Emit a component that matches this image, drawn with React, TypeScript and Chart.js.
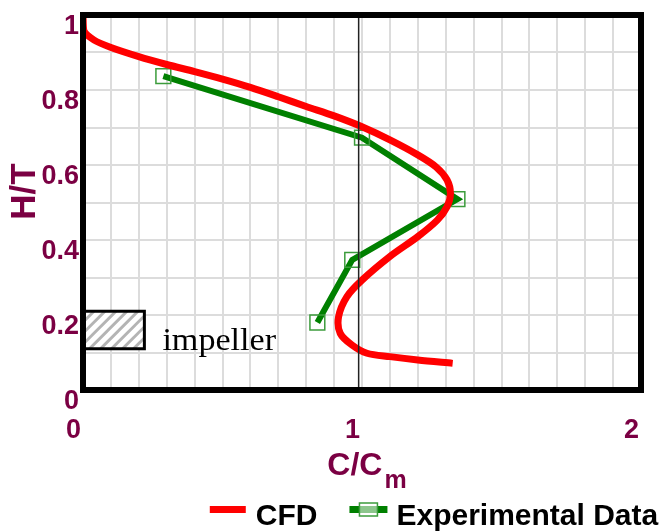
import React, { useEffect, useRef } from 'react';
import { Chart, registerables } from 'chart.js';

Chart.register(...registerables);

// ---- data ----
const seriesNames = ['CFD', 'Experimental Data'];

const cfdX = [0.0, 0.003, 0.04, 0.098, 0.2, 0.3, 0.4, 0.5, 0.6, 0.7, 0.8, 0.9, 1.0, 1.1, 1.2, 1.265, 1.305, 1.317, 1.305, 1.27, 1.2, 1.1, 1.0, 0.946, 0.916, 0.922, 0.964, 1.018, 1.1, 1.2, 1.325];
const cfdY = [1.0, 0.958, 0.933, 0.914, 0.889, 0.868, 0.849, 0.829, 0.807, 0.782, 0.756, 0.731, 0.702, 0.667, 0.627, 0.595, 0.56, 0.524, 0.489, 0.453, 0.409, 0.356, 0.293, 0.249, 0.195, 0.151, 0.12, 0.098, 0.089, 0.08, 0.071];

const expX = [0.288, 1.0, 1.342, 0.965, 0.84];
const expY = [0.837, 0.673, 0.509, 0.347, 0.18];

const xLabelled = [0, 1, 2];
const yLabelled = [0, 0.2, 0.4, 0.6, 0.8, 1];

const impellerX = [0, 0.22];
const impellerY = [0.11, 0.21];
const impellerText = 'impeller';
const refLineX = [0.988];

const MAROON = '#7b0043';

const fmt = (v: number) =>
  Math.abs(v - Math.round(v)) < 1e-9 ? String(Math.round(v)) : v.toFixed(1);

const decorPlugin = {
  id: 'decor',
  afterDraw(chart: any) {
    const { ctx, chartArea: ca, scales } = chart;
    const xs = scales.x;
    const ys = scales.y;
    ctx.save();

    // reference vertical line
    ctx.strokeStyle = '#222';
    ctx.lineWidth = 1.5;
    refLineX.forEach((v) => {
      const px = xs.getPixelForValue(v);
      ctx.beginPath();
      ctx.moveTo(px, ca.top);
      ctx.lineTo(px, ca.bottom);
      ctx.stroke();
    });

    // impeller box
    const bx0 = xs.getPixelForValue(impellerX[0]);
    const bx1 = xs.getPixelForValue(impellerX[1]);
    const by0 = ys.getPixelForValue(impellerY[1]);
    const by1 = ys.getPixelForValue(impellerY[0]);
    ctx.fillStyle = '#ffffff';
    ctx.fillRect(bx0, by0, bx1 - bx0, by1 - by0);
    ctx.save();
    ctx.beginPath();
    ctx.rect(bx0, by0, bx1 - bx0, by1 - by0);
    ctx.clip();
    ctx.strokeStyle = '#b4b4b4';
    ctx.lineWidth = 3;
    const h = by1 - by0;
    for (let px = bx0 - h; px < bx1 + h; px += 11) {
      ctx.beginPath();
      ctx.moveTo(px, by1);
      ctx.lineTo(px + h, by0);
      ctx.stroke();
    }
    ctx.restore();
    ctx.strokeStyle = '#000';
    ctx.lineWidth = 3;
    ctx.strokeRect(bx0, by0, bx1 - bx0, by1 - by0);

    ctx.save();
    ctx.fillStyle = '#000';
    ctx.font = '31px "Liberation Serif", "Times New Roman", serif';
    ctx.textBaseline = 'alphabetic';
    ctx.textAlign = 'left';
    ctx.translate(bx1 + 18, by1 + 1);
    ctx.scale(1.1, 1);
    ctx.fillText(impellerText, 0, 0);
    ctx.restore();

    // frame
    ctx.strokeStyle = '#000';
    ctx.lineWidth = 6;
    ctx.strokeRect(ca.left, ca.top, ca.right - ca.left, ca.bottom - ca.top);

    // y title
    ctx.save();
    ctx.fillStyle = MAROON;
    ctx.font = 'bold 35px "Liberation Sans", Arial, sans-serif';
    ctx.textAlign = 'center';
    ctx.textBaseline = 'alphabetic';
    ctx.translate(35, 191.5);
    ctx.rotate(-Math.PI / 2);
    ctx.fillText('H/T', 0, 0);
    ctx.restore();

    // x title with subscript
    ctx.save();
    ctx.fillStyle = MAROON;
    ctx.textAlign = 'left';
    ctx.textBaseline = 'alphabetic';
    ctx.font = 'bold 32px "Liberation Sans", Arial, sans-serif';
    const w1 = ctx.measureText('C/C').width;
    ctx.font = 'bold 25px "Liberation Sans", Arial, sans-serif';
    const w2 = ctx.measureText('m').width;
    const total = w1 + 2 + w2;
    const cx = (ca.left + ca.right) / 2 + 5;
    const sx = cx - total / 2;
    ctx.font = 'bold 32px "Liberation Sans", Arial, sans-serif';
    ctx.fillText('C/C', sx, 475);
    ctx.font = 'bold 25px "Liberation Sans", Arial, sans-serif';
    ctx.fillText('m', sx + w1 + 2, 488);
    ctx.restore();

    // legend
    ctx.save();
    ctx.font = 'bold 30px "Liberation Sans", Arial, sans-serif';
    ctx.textBaseline = 'alphabetic';
    ctx.textAlign = 'left';
    const ds = chart.data.datasets;
    const lineW = [36, 38];
    const gapAfterLine = [10, 9];
    const itemGap = 32;
    const widths = ds.map((d: any, i: number) => lineW[i] + gapAfterLine[i] + ctx.measureText(d.label).width);
    const totalW = widths.reduce((a: number, b: number) => a + b, 0) + itemGap * (ds.length - 1);
    let lx = 434 - totalW / 2;
    const ly = 509.5;
    ds.forEach((d: any, i: number) => {
      ctx.strokeStyle = d.borderColor;
      ctx.lineWidth = 7;
      ctx.lineCap = 'butt';
      ctx.beginPath();
      ctx.moveTo(lx, ly);
      ctx.lineTo(lx + lineW[i], ly);
      ctx.stroke();
      if (d.pointRadius > 0) {
        const mx = lx + lineW[i] / 2;
        ctx.fillStyle = 'rgba(255,255,255,0.55)';
        ctx.fillRect(mx - 9, ly - 6.5, 18, 13);
        ctx.strokeStyle = d.pointBorderColor;
        ctx.lineWidth = 1.5;
        ctx.strokeRect(mx - 9, ly - 6.5, 18, 13);
      }
      ctx.fillStyle = '#000';
      ctx.fillText(d.label, lx + lineW[i] + gapAfterLine[i], 525);
      lx += widths[i] + itemGap;
    });
    ctx.restore();

    ctx.restore();
  },
};

export default function App() {
  const ref = useRef<HTMLCanvasElement | null>(null);

  useEffect(() => {
    document.body.style.margin = '0';
    const canvas = ref.current;
    if (!canvas) return;
    const tickFont = { family: '"Liberation Sans", Arial, sans-serif', size: 27, weight: 'bold' as const };
    const chart = new Chart(canvas, {
      type: 'scatter',
      data: {
        datasets: [
          {
            label: seriesNames[0],
            data: cfdX.map((x, i) => ({ x, y: cfdY[i] })),
            showLine: true,
            borderColor: '#ff0000',
            backgroundColor: '#ff0000',
            borderWidth: 7,
            pointRadius: 0,
            tension: 0.3,
            borderCapStyle: 'butt',
            order: 1,
          },
          {
            label: seriesNames[1],
            data: expX.map((x, i) => ({ x, y: expY[i] })),
            showLine: true,
            borderColor: '#008000',
            backgroundColor: '#008000',
            borderWidth: 6,
            pointRadius: 10.5,
            pointStyle: 'rect',
            pointBorderColor: '#3c9c3c',
            pointBorderWidth: 1.5,
            pointBackgroundColor: 'rgba(255,255,255,0)',
            tension: 0,
            borderCapStyle: 'butt',
            order: 2,
          },
        ] as any,
      },
      options: {
        animation: false,
        responsive: false,
        maintainAspectRatio: false,
        layout: { padding: { top: 15, right: 22, left: 0, bottom: 0 } },
        plugins: { legend: { display: false }, tooltip: { enabled: false }, title: { display: false } },
        scales: {
          x: {
            type: 'linear',
            min: 0,
            max: 2,
            z: 1,
            afterFit: (s: any) => {
              s.height = 141;
              s.paddingLeft = 0;
              s.paddingRight = 0;
            },
            grid: { color: '#dcdcdc', lineWidth: 2, drawTicks: false },
            border: { display: false },
            ticks: {
              stepSize: 0.1,
              autoSkip: false,
              maxRotation: 0,
              minRotation: 0,
              padding: 24,
              labelOffset: -9.5,
              color: MAROON,
              font: tickFont,
              callback: (v: any) =>
                xLabelled.some((l) => Math.abs(l - Number(v)) < 1e-6) ? fmt(Number(v)) : '',
            },
          },
          y: {
            type: 'linear',
            min: 0,
            max: 1,
            z: 1,
            afterFit: (s: any) => {
              s.width = 83;
              s.paddingTop = 0;
              s.paddingBottom = 0;
            },
            grid: { color: '#dcdcdc', lineWidth: 2, drawTicks: false },
            border: { display: false },
            ticks: {
              stepSize: 0.1,
              autoSkip: false,
              padding: 4,
              labelOffset: 11.5,
              color: MAROON,
              font: tickFont,
              callback: (v: any) =>
                yLabelled.some((l) => Math.abs(l - Number(v)) < 1e-6) ? fmt(Number(v)) : '',
            },
          },
        },
      } as any,
      plugins: [decorPlugin],
    });
    return () => chart.destroy();
  }, []);

  return <canvas ref={ref} width={663} height={531} style={{ display: 'block' }} />;
}
